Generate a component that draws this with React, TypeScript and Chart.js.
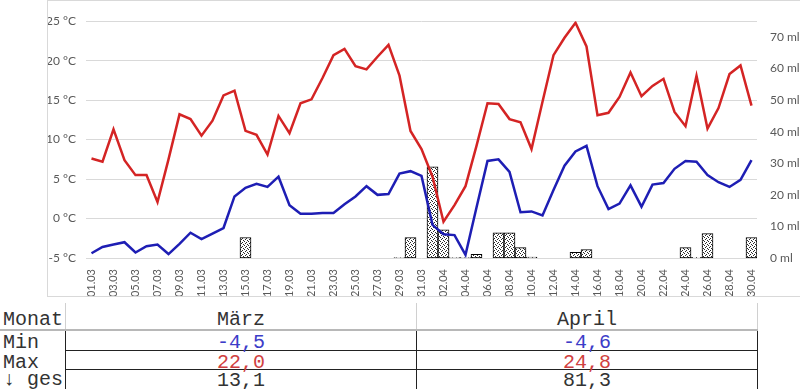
import React, { useEffect, useRef } from 'react';
import { Chart, registerables } from 'chart.js';
Chart.register(...registerables);

const dayLabels = [
  '01.03','02.03','03.03','04.03','05.03','06.03','07.03','08.03','09.03','10.03',
  '11.03','12.03','13.03','14.03','15.03','16.03','17.03','18.03','19.03','20.03',
  '21.03','22.03','23.03','24.03','25.03','26.03','27.03','28.03','29.03','30.03','31.03',
  '01.04','02.04','03.04','04.04','05.04','06.04','07.04','08.04','09.04','10.04',
  '11.04','12.04','13.04','14.04','15.04','16.04','17.04','18.04','19.04','20.04',
  '21.04','22.04','23.04','24.04','25.04','26.04','27.04','28.04','29.04','30.04',
];

const maxTemp = [
  7.6, 7.2, 11.3, 7.4, 5.5, 5.5, 2.1, 7.5, 13.2, 12.6, 10.5, 12.4, 15.6, 16.2, 11.1, 10.6,
  8.1, 13.0, 10.8, 14.6, 15.1, 17.8, 20.7, 21.5, 19.3, 18.9, 20.5, 22.0, 18.1, 11.1, 8.8,
  5.3, -0.4, 1.7, 4.1, 9.2, 14.6, 14.5, 12.6, 12.2, 8.8, 14.8, 20.7, 22.9, 24.8, 21.8,
  13.1, 13.4, 15.4, 18.5, 15.5, 16.8, 17.7, 13.5, 11.7, 18.1, 11.4, 14.0, 18.3, 19.4, 14.3,
];

const minTemp = [
  -4.4, -3.6, -3.3, -3.0, -4.3, -3.5, -3.3, -4.5, -3.2, -1.8, -2.6, -1.9, -1.2, 2.8, 3.9, 4.4,
  4.0, 5.3, 1.7, 0.6, 0.6, 0.7, 0.7, 1.8, 2.8, 4.1, 3.0, 3.1, 5.7, 6.0, 5.4,
  -0.8, -2.0, -2.1, -4.6, 1.4, 7.3, 7.5, 5.9, 0.8, 0.9, 0.4, 3.6, 6.7, 8.5, 9.2,
  4.1, 1.2, 1.9, 4.2, 1.5, 4.3, 4.5, 6.3, 7.3, 7.2, 5.5, 4.6, 4.0, 4.9, 7.4,
];

const rain = [
  null, null, null, null, null, null, null, null, null, null, null, null, null, null, 6.5, null,
  null, null, null, null, null, null, null, null, null, null, null, null, 0.1, 6.5, null,
  28.9, 8.9, 0.1, 0.1, 1.2, null, 8.0, 8.0, 3.3, 0.3, null, null, null, 1.8, 2.7,
  null, null, null, null, null, null, null, null, 3.3, 0.2, 7.7, null, null, null, 6.5,
];

const tableMonths = ['März', 'April'];
const tableMin = ['-4,5', '-4,6'];
const tableMax = ['22,0', '24,8'];
const tableSum = ['13,1', '81,3'];

const tickFont = { family: 'Lato, "Liberation Sans", sans-serif', size: 12 };
const xTickFont = { family: 'Lato, "Liberation Sans", sans-serif', size: 11 };
const tickColor = '#595959';
const mono = '"Liberation Mono", "DejaVu Sans Mono", monospace';

function ChartBox() {
  const ref = useRef<HTMLCanvasElement>(null);
  useEffect(() => {
    const pc = document.createElement('canvas');
    pc.width = 4;
    pc.height = 4;
    const g = pc.getContext('2d')!;
    g.fillStyle = '#ffffff';
    g.fillRect(0, 0, 4, 4);
    g.fillStyle = '#2a2a2a';
    [[0, 0], [2, 1], [1, 2], [3, 3]].forEach(([x, y]) => g.fillRect(x, y, 1, 1));
    const ctx = ref.current!.getContext('2d')!;
    const pattern = ctx.createPattern(pc, 'repeat');

    const chart = new Chart(ref.current!, {
      type: 'bar',
      data: {
        labels: dayLabels,
        datasets: [
          {
            type: 'line',
            data: maxTemp,
            borderColor: '#d42424',
            borderWidth: 2.5,
            pointRadius: 0,
            tension: 0,
            yAxisID: 'y',
            order: 1,
          } as any,
          {
            type: 'line',
            data: minTemp,
            borderColor: '#1e1eb4',
            borderWidth: 2.5,
            pointRadius: 0,
            tension: 0,
            yAxisID: 'y',
            order: 1,
          } as any,
          {
            type: 'bar',
            data: rain,
            backgroundColor: pattern,
            borderColor: '#000000',
            borderWidth: 1,
            borderSkipped: false,
            barPercentage: 1,
            categoryPercentage: 1,
            yAxisID: 'y2',
            order: 2,
          } as any,
        ],
      },
      options: {
        responsive: false,
        animation: false,
        layout: { padding: { top: 7, left: 0, right: 0, bottom: 0 } },
        plugins: { legend: { display: false }, tooltip: { enabled: false } },
        scales: {
          x: {
            grid: { display: false },
            border: { display: false },
            ticks: {
              autoSkip: false,
              minRotation: 90,
              maxRotation: 90,
              padding: 3,
              color: tickColor,
              font: xTickFont,
              callback: (_v: any, i: number) => (i % 2 === 0 ? dayLabels[i] : ''),
            },
            afterFit: (s: any) => { s.height = 38; },
          },
          y: {
            position: 'left',
            min: -5,
            max: 25,
            ticks: {
              stepSize: 5,
              padding: 10,
              color: tickColor,
              font: tickFont,
              callback: (v: any) => `${v} °C`,
            },
            grid: { color: '#d9d9d9', drawTicks: false, lineWidth: 1 },
            border: { display: false },
            afterFit: (s: any) => { s.width = 38; },
          },
          y2: {
            position: 'right',
            min: 0,
            max: 75,
            ticks: {
              stepSize: 10,
              padding: 13,
              color: tickColor,
              font: tickFont,
              callback: (v: any) => `${v} ml`,
            },
            afterBuildTicks: (s: any) => {
              s.ticks = s.ticks.filter((t: any) => t.value % 10 === 0);
            },
            grid: { display: false, drawTicks: false },
            border: { display: false },
            afterFit: (s: any) => { s.width = 51; },
          },
        },
      } as any,
    });
    return () => chart.destroy();
  }, []);
  return (
    <div
      style={{
        position: 'absolute',
        left: 47,
        top: 0,
        width: 800,
        height: 297,
        boxSizing: 'border-box',
        border: '1px solid #d9d9d9',
        background: '#fff',
      }}
    >
      <canvas ref={ref} width={760} height={295} style={{ display: 'block' }} />
    </div>
  );
}

function Line(p: { x: number; y: number; w: number; h: number; c: string }) {
  return (
    <div style={{ position: 'absolute', left: p.x, top: p.y, width: p.w, height: p.h, background: p.c }} />
  );
}

function Txt(p: { x: number; w: number; top: number; text: string; color?: string; align?: 'left' | 'center' }) {
  return (
    <div
      style={{
        position: 'absolute',
        left: p.x,
        width: p.w,
        top: p.top,
        height: 20,
        lineHeight: '20px',
        fontFamily: mono,
        fontSize: 20,
        color: p.color || '#333',
        textAlign: p.align || 'center',
        whiteSpace: 'nowrap',
      }}
    >
      {p.text}
    </div>
  );
}

export default function App() {
  useEffect(() => {
    document.body.style.margin = '0';
  }, []);
  const colX = [65, 416, 757];
  const cells = [
    { x: 66, w: 350 },
    { x: 417, w: 340 },
  ];
  return (
    <div style={{ position: 'fixed', left: 0, top: 0, width: 800, height: 389, overflow: 'hidden', background: '#fff' }}>
      <ChartBox />
      {colX.map((x) => (
        <Line key={'g' + x} x={x} y={303} w={1} h={26} c="#d0d0d0" />
      ))}
      <Line x={0} y={329} w={758} h={2} c="#b8b8b8" />
      {colX.map((x) => (
        <Line key={'b' + x} x={x} y={331} w={1} h={60} c="#222" />
      ))}
      <Line x={65} y={350} w={693} h={1} c="#222" />
      <Line x={65} y={369} w={693} h={1} c="#222" />

      <Txt x={3} w={62} top={310} text="Monat" align="left" />
      <Txt x={3} w={62} top={333} text="Min" align="left" />
      <Txt x={3} w={62} top={353} text="Max" align="left" />
      <Txt x={3} w={62} top={370} text="↓ ges" align="left" />
      {cells.map((c, i) => (
        <React.Fragment key={i}>
          <Txt x={c.x} w={c.w} top={310} text={tableMonths[i]} />
          <Txt x={c.x} w={c.w} top={333} text={tableMin[i]} color="#3c3cc8" />
          <Txt x={c.x} w={c.w} top={353} text={tableMax[i]} color="#d04040" />
          <Txt x={c.x} w={c.w} top={371} text={tableSum[i]} />
        </React.Fragment>
      ))}
    </div>
  );
}
